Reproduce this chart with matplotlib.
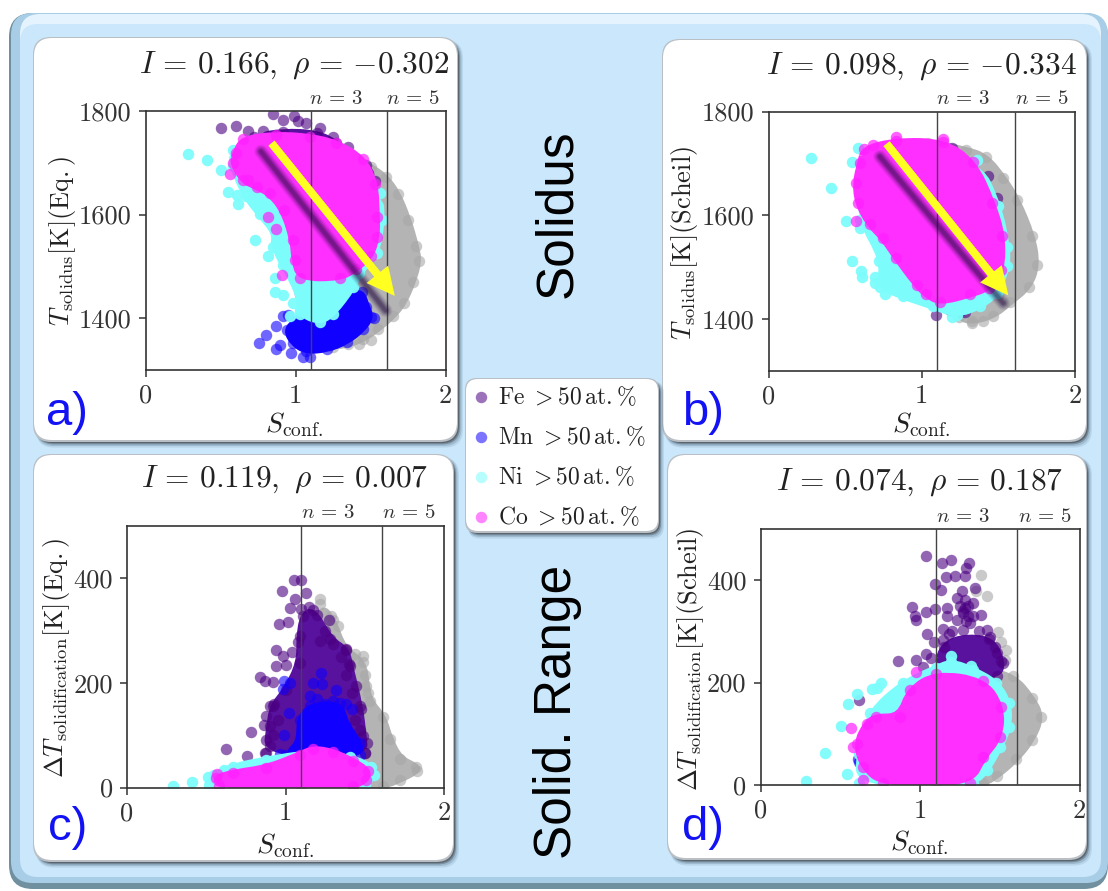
import matplotlib
matplotlib.use("Agg")
import matplotlib.pyplot as plt
from matplotlib.patches import FancyBboxPatch, PathPatch
from matplotlib.path import Path

plt.rcParams['mathtext.fontset'] = 'cm'
plt.rcParams['font.family'] = ['DejaVu Serif']

W, H = 1108, 891

# ---------------- data: (S_conf, value) ----------------
# dense masses are given by their outline points; separate dots as single points
a_gray_core = [(1.27,1725),(1.40,1705),(1.50,1692),(1.60,1672),(1.68,1640),(1.75,1590),(1.80,1540),(1.82,1510),
               (1.78,1470),(1.72,1430),(1.65,1405),(1.55,1380),(1.45,1360),(1.35,1350),(1.25,1345),(1.1,1400),(1.1,1650)]
a_gray_pts = [(1.42,1350),(1.50,1358)]
a_fe_core = [(0.72,1750),(0.918,1760),(1.14,1757),(1.273,1738),(1.47,1696),(1.53,1665),(1.0,1600)]
a_fe_pts = [(0.502,1767),(0.602,1771),(0.68,1761),(0.785,1761),(0.85,1794),(0.918,1783),(0.987,1790),(1.018,1781),
            (1.073,1776),(1.16,1768),(1.25,1750),(1.35,1730)]
a_mn_core = [(1.44,1450),(1.473,1422),(1.50,1403),(1.45,1380),(1.34,1355),(1.207,1340),(1.07,1337),(0.985,1352),
             (0.94,1377),(1.007,1396),(1.16,1393),(1.25,1409),(1.36,1445)]
a_mn_pts = [(0.758,1353),(0.8,1368),(0.873,1384),(0.873,1340),(0.895,1348),(0.973,1332),(1.05,1326),(1.095,1325),
            (0.918,1405),(0.95,1406),(1.03,1447),(1.05,1445),(1.52,1400)]
a_ni_core = [(1.56,1641),(1.575,1590),(1.54,1525),(1.42,1487),(1.385,1461),(1.25,1409),(1.16,1393),(1.03,1409),
             (1.03,1448),(0.85,1538),(0.87,1564),(0.76,1602),(0.67,1635),(0.58,1693),(0.58,1725)]
a_ni_pts = [(0.285,1717),(0.407,1705),(0.5,1687),(0.55,1643),(0.61,1637),(0.615,1620),(0.73,1551),(0.818,1521),
            (0.918,1503),(0.862,1477),(0.862,1451),(0.918,1445),(0.985,1429),(1.03,1416),(0.96,1405)]
a_co_core = [(0.60,1718),(0.65,1746),(0.873,1754),(1.095,1750),(1.273,1738),(1.45,1708),(1.53,1660),(1.54,1596),
             (1.54,1557),(1.50,1520),(1.40,1495),(1.295,1478),(1.03,1478),(0.995,1512),(0.985,1551),(0.92,1609),
             (0.83,1641),(0.74,1654),(0.65,1667),(0.585,1699)]
a_co_pts = [(0.562,1678),(0.907,1483),(0.818,1596),(0.873,1573),(0.685,1667)]

b_gray_core = [(1.04,1740),(1.29,1726),(1.42,1712),(1.53,1672),(1.62,1630),(1.72,1559),(1.75,1504),(1.70,1462),
               (1.575,1432),(1.467,1406),(1.325,1395),(1.24,1403),(1.1,1500)]
b_gray_pts = [(1.325,1391),(1.40,1396)]
b_fe_core = []
b_fe_pts = [(1.092,1408),(1.184,1417),(1.28,1413),(1.428,1456),(1.488,1633),(1.434,1675),(1.195,1729),(0.912,1738),
            (0.70,1723),(0.70,1552),(0.934,1462),(0.836,1504)]
b_mn_core = []
b_mn_pts = [(1.25,1415),(0.73,1640)]
b_ni_core = [(0.585,1729),(1.358,1707),(1.50,1617),(1.555,1539),(1.555,1501),(1.49,1449),(1.38,1424),(1.227,1408),
             (1.075,1424),(0.88,1443),(0.727,1462),(0.75,1514),(0.60,1591)]
b_ni_pts = [(0.28,1710),(0.407,1652),(0.503,1588),(0.542,1702),(0.548,1512),(0.603,1493),(0.607,1481),(0.694,1481),
            (0.76,1447),(0.694,1468),(0.596,1575),(1.195,1404),(0.72,1512)]
b_co_core = [(0.625,1728),(0.835,1743),(1.14,1741),(1.336,1703),(1.46,1623),(1.525,1559),(1.52,1494),(1.44,1460),
             (1.315,1447),(1.118,1432),(1.03,1447),(0.966,1466),(0.835,1518),(0.75,1556),(0.66,1582),(0.585,1623),
             (0.57,1662),(0.60,1700)]
b_co_pts = [(0.57,1588),(0.68,1735),(0.835,1750),(1.14,1747)]

c_gray_core = [(1.216,350),(1.30,320),(1.363,265),(1.49,240),(1.51,195),(1.53,165),(1.615,135),(1.657,92),(1.72,55),
               (1.825,40),(1.83,32),(1.72,15),(1.615,3),(1.1,3),(1.1,200)]
c_gray_pts = [(1.216,361),(1.29,327),(1.33,308),(1.49,251),(1.437,256),(1.50,215),(1.52,180)]
c_fe_core = [(1.174,340),(1.28,283),(1.384,263),(1.405,232),(1.468,155),(1.49,98),(1.50,66),(0.88,66),(0.90,117),
             (0.92,155),(1.006,187),(1.09,238),(1.09,289),(1.11,327)]
c_fe_pts = [(1.053,396),(1.10,397),(0.977,375),(1.059,361),(1.132,371),(1.03,343),(1.10,341),(0.958,313),(1.017,317),
            (1.275,320),(0.943,263),(1.044,260),(0.943,233),(1.006,235),(0.842,211),(0.87,203),(0.922,202),(1.384,265),
            (1.40,237),(1.447,195),(1.479,150),(0.90,155),(0.88,136),(0.863,119),(0.78,107),(0.874,91),(0.622,74),
            (0.758,61),(0.87,66),(1.515,85),(1.504,66),(1.08,279),(0.985,251),(1.15,345),(1.2,330),(1.25,300),
            (1.22,280),(1.3,275),(1.35,250),(1.38,215),(1.42,180),(1.44,130),(1.47,110),(0.93,160),(0.95,130),
            (0.92,100),(0.9,80)]
c_mn_core = [(1.153,155),(1.342,161),(1.384,117),(1.468,85),(1.468,62),(1.0,62),(1.09,85),(1.09,130)]
c_mn_pts = [(0.99,203),(0.985,188),(1.027,200),(1.174,200),(1.223,219),(1.233,198),(1.321,186),(1.153,174),(1.023,142),
            (0.99,101),(1.40,107),(0.964,64),(1.2,170),(1.25,160),(1.3,165),(1.38,160),(1.42,150),(1.2,130)]
c_ni_core = [(0.67,40),(0.88,53),(1.153,66),(1.405,58),(1.54,40),(1.56,24),(1.50,5),(0.52,5),(0.55,24)]
c_ni_pts = [(0.288,2),(0.412,10),(0.513,21),(0.611,34)]
c_co_core = [(0.56,18),(0.67,28),(0.88,37),(1.09,62),(1.174,74),(1.30,68),(1.427,50),(1.52,32),(1.51,15),(1.427,3),
             (0.58,3)]
c_co_pts = [(0.57,25)]

d_gray_core = [(1.396,225),(1.584,212),(1.70,170),(1.76,133),(1.70,88),(1.60,50),(1.48,18),(1.396,3),(1.1,3)]
d_gray_pts = [(1.381,411),(1.417,370),(1.35,378),(1.49,298),(1.51,280),(1.542,264),(1.53,244)]
d_fe_core = [(1.145,283),(1.438,290),(1.52,238),(1.48,212),(1.10,212)]
d_fe_pts = [(1.037,448),(1.139,434),(1.197,439),(1.306,433),(1.29,423),(1.166,407),(1.218,408),(1.281,408),(1.093,393),
            (1.13,380),(1.344,385),(1.266,378),(1.229,365),(1.281,361),(1.333,355),(0.947,348),(0.968,331),(0.972,322),
            (1.04,337),(1.097,343),(1.17,345),(1.17,331),(1.27,335),(1.38,332),(1.229,322),(1.312,316),(1.145,304),
            (1.27,303),(1.421,303),(1.047,295),(1.087,280),(1.04,256),(1.068,249),(0.863,243),(0.972,244),(1.02,231),
            (1.51,243),(1.48,257),(0.619,166),(1.28,345),(1.30,330),(1.3,350),(1.27,340),(1.33,330),(1.25,350),
            (1.29,320),(1.2,300),(1.37,300),(1.43,285),(1.15,270),(1.18,295),(1.47,270)]
d_mn_core = []
d_mn_pts = [(0.894,171),(0.62,45),(0.61,50)]
d_ni_core = [(0.665,94),(0.685,140),(0.894,199),(1.103,228),(1.197,240),(1.33,225),(1.478,200),(1.555,160),(1.555,114),
             (1.50,75),(1.417,29),(1.333,3),(0.62,3),(0.62,60)]
d_ni_pts = [(0.284,8),(0.407,63),(0.545,21),(0.504,115),(0.549,158),(0.606,178),(0.696,187),(0.758,199),(1.197,251),
            (0.73,190),(1.32,232)]
d_co_core = [(0.602,81),(0.665,120),(0.727,133),(0.874,133),(0.936,186),(1.103,217),(1.396,204),(1.51,153),(1.50,94),
             (1.396,55),(1.312,3),(0.769,3),(0.644,36)]
d_co_pts = [(0.57,111),(0.581,75),(0.64,10),(0.978,221)]

titles = [r'$I\,=\,0.166,\ \rho\,=\,{-}0.302$', r'$I\,=\,0.098,\ \rho\,=\,{-}0.334$',
          r'$I\,=\,0.119,\ \rho\,=\,0.007$', r'$I\,=\,0.074,\ \rho\,=\,0.187$']
ylabels = [r'$T_{\mathrm{solidus}}[\mathrm{K}](\mathrm{Eq.})$', r'$T_{\mathrm{solidus}}[\mathrm{K}](\mathrm{Scheil})$',
           r'$\Delta T_{\mathrm{solidification}}[\mathrm{K}](\mathrm{Eq.})$',
           r'$\Delta T_{\mathrm{solidification}}[\mathrm{K}](\mathrm{Scheil})$']
letters = ['a)', 'b)', 'c)', 'd)']
n_lines = [1.1, 1.61]
n_labels = [r'$n\,=\,3$', r'$n\,=\,5$']
legend_labels = [r'$\mathrm{Fe}\ >50\,\mathrm{at.\%}$', r'$\mathrm{Mn}\ >50\,\mathrm{at.\%}$',
                 r'$\mathrm{Ni}\ >50\,\mathrm{at.\%}$', r'$\mathrm{Co}\ >50\,\mathrm{at.\%}$']
solidus_ticks = [1400, 1600, 1800]
range_ticks = [0, 200, 400]
arrow_a = [(0.84,1738),(1.662,1443)]
shadow_a = [(0.77,1722),(1.60,1415)]
arrow_b = [(0.77,1738),(1.565,1445)]
shadow_b = [(0.727,1713),(1.532,1430)]

# ---------------- styles ----------------
C_GRAY = dict(core='#b4b4b4', dot='#a8a8a8', a=0.6)
C_FE = dict(core='#58129e', dot='#4b0082', a=0.6)
C_MN = dict(core='#1000ff', dot='#1000ff', a=0.6)
C_NI = dict(core='#7dfcfc', dot='#7dfcfc', a=0.95)
C_CO = dict(core='#ff30ff', dot='#ff20ff', a=0.7)
MS = 68


def rect(bg, x0, y0, x1, y1, r, **kw):
    bg.add_patch(FancyBboxPatch((x0 + r, y0 + r), x1 - x0 - 2 * r, y1 - y0 - 2 * r,
                                boxstyle=f'round,pad={r},rounding_size={r}', lw=0, **kw))


def card(bg, x0, y0, x1, y1, r=18):
    for off, col, al in [(7, '#4d6d85', 0.15), (5, '#4d6d85', 0.25), (3, '#3f4f5c', 0.4), (1.5, '#555b60', 0.8)]:
        rect(bg, x0 + 2, y0 + 2, x1 + off * 0.7, y1 + off * 0.8, r, fc=col, alpha=al)
    rect(bg, x0 - 1, y0 - 1, x1, y1, r, fc='#b9bfc4')
    rect(bg, x0, y0, x1 - 1, y1 - 2, r, fc='white')


def cloud(ax, core, pts, st):
    if core:
        verts = [((core[i - 1][0] + core[i][0]) / 2, (core[i - 1][1] + core[i][1]) / 2) for i in range(len(core))]
        codes = [Path.MOVETO]
        path = [verts[0]]
        for i, c in enumerate(core):
            path += [c, verts[(i + 1) % len(core)]]
            codes += [Path.CURVE3, Path.CURVE3]
        ax.add_patch(PathPatch(Path(path, codes), fc=st['core'], ec=st['core'], lw=5, joinstyle='round', zorder=2))
    all_pts = list(core) + list(pts)
    ax.scatter([p[0] for p in all_pts], [p[1] for p in all_pts], s=MS, color=st['dot'],
               alpha=st['a'], linewidths=0, zorder=2)


fig = plt.figure(figsize=(W / 100, H / 100), dpi=100, facecolor='white')
bg = fig.add_axes([0, 0, 1, 1], zorder=0)
bg.set_xlim(0, W)
bg.set_ylim(H, 0)
bg.axis('off')
rect(bg, 9, 13, 1108, 889, 24, fc='#70909f')
rect(bg, 11, 13, 1108, 883, 22, fc='#a8cde6')
rect(bg, 20, 14, 1101, 60, 20, fc='#e4f3fe')
rect(bg, 20, 24, 1101, 877, 18, fc='#cbe7fb')

card(bg, 34, 38, 458, 442)
card(bg, 663, 40, 1087, 442)
card(bg, 34, 455, 454, 862)
card(bg, 668, 455, 1087, 860)
card(bg, 466, 379, 659, 533, r=12)


def panel(box, ylim, yticks, core_sets, title, tpos, ylab, ylpos, xlab, letter, lpos):
    x0, x1, y0, y1 = box
    ax = fig.add_axes([x0 / W, 1 - y1 / H, (x1 - x0) / W, (y1 - y0) / H], zorder=2)
    for core, pts, st in core_sets:
        cloud(ax, core, pts, st)
    ax.set_xlim(0, 2)
    ax.set_ylim(*ylim)
    ax.set_xticks([0, 1, 2])
    ax.set_yticks(yticks)
    ax.tick_params(labelsize=19, length=5, width=1.1, color='#333333', labelcolor='#333333', pad=5)
    for t in ax.get_xticklabels() + ax.get_yticklabels():
        t.set_fontfamily('cmr10')
    plt.setp(ax.spines.values(), color='#333333', lw=1.2)
    for v in n_lines:
        ax.axvline(v, color='#444444', lw=1.0, zorder=3)
    for v, lab in zip(n_lines, n_labels):
        ax.text(v + 0.17, ylim[1] + (ylim[1] - ylim[0]) * 0.05, lab, ha='center', va='center',
                fontsize=15, color='#333333')
    bg.text(tpos[0], tpos[1], title, fontsize=22.6, ha='center', va='center', color='#222222')
    bg.text(ylpos[0], ylpos[1], ylab, rotation=90, fontsize=19, ha='center', va='center', color='#222222')
    bg.text(xlab[0], xlab[1], r'$S_{\mathrm{conf.}}$', fontsize=20, ha='center', va='center', color='#222222')
    bg.text(lpos[0], lpos[1], letter, fontsize=34, family='Liberation Sans', color='#1212f5', ha='center', va='center')
    return ax


ax_a = panel((145.5, 445.5, 111, 370), (1300, 1800), solidus_ticks,
             [(a_gray_core, a_gray_pts, C_GRAY), (a_fe_core, a_fe_pts, C_FE), (a_mn_core, a_mn_pts, C_MN),
              (a_ni_core, a_ni_pts, C_NI), (a_co_core, a_co_pts, C_CO)],
             titles[0], (294, 65), ylabels[0], (62, 241), (294, 425), letters[0], (67, 413))
ax_b = panel((768.5, 1075, 111.5, 370.5), (1300, 1800), solidus_ticks,
             [(b_gray_core, b_gray_pts, C_GRAY), (b_fe_core, b_fe_pts, C_FE), (b_mn_core, b_mn_pts, C_MN),
              (b_ni_core, b_ni_pts, C_NI), (b_co_core, b_co_pts, C_CO)],
             titles[1], (921, 66), ylabels[1], (685, 243), (921, 425), letters[1], (703, 413))
ax_c = panel((127, 444, 526, 787.5), (0, 500), range_ticks,
             [(c_gray_core, c_gray_pts, C_GRAY), (c_fe_core, c_fe_pts, C_FE), (c_mn_core, c_mn_pts, C_MN),
              (c_ni_core, c_ni_pts, C_NI), (c_co_core, c_co_pts, C_CO)],
             titles[2], (285, 479), ylabels[2], (57, 658), (285, 846), letters[2], (68, 828))
ax_d = panel((760.5, 1079.5, 529, 785), (0, 500), range_ticks,
             [(d_gray_core, d_gray_pts, C_GRAY), (d_fe_core, d_fe_pts, C_FE), (d_mn_core, d_mn_pts, C_MN),
              (d_ni_core, d_ni_pts, C_NI), (d_co_core, d_co_pts, C_CO)],
             titles[3], (920, 482), ylabels[3], (690, 659), (919, 843), letters[3], (703, 828))


def arrow(ax, a, s):
    for lw, al in [(10, 0.07), (8.5, 0.09), (7, 0.12), (5.5, 0.16), (4, 0.2), (2.5, 0.22)]:
        ax.plot([s[0][0], s[1][0]], [s[0][1], s[1][1]], color='#200840', lw=lw, alpha=al,
                solid_capstyle='round', zorder=4)
    ax.annotate('', xy=a[1], xytext=a[0], zorder=5,
                arrowprops=dict(width=5.8, headwidth=20, headlength=20, shrink=0, facecolor='#ffff22',
                                edgecolor='none', linewidth=0))


arrow(ax_a, arrow_a, shadow_a)
arrow(ax_b, arrow_b, shadow_b)

# central labels
bg.text(558, 214, 'Solidus', rotation=90, fontsize=37, family='Liberation Sans', color='black', ha='center', va='center')
bg.text(558, 712, 'Solid. Range', rotation=90, fontsize=37, family='Liberation Sans', color='black', ha='center', va='center')

# legend
leg = fig.add_axes([0, 0, 1, 1], zorder=3)
leg.set_xlim(0, W)
leg.set_ylim(H, 0)
leg.axis('off')
leg_styles = [C_FE, C_MN, C_NI, C_CO]
leg_y = [397, 437, 477, 517]
for lab, st, y in zip(legend_labels, leg_styles, leg_y):
    leg.scatter([481], [y], s=MS, color=st['dot'], alpha=min(st['a'], 0.55), linewidths=0)
    leg.text(498, y, lab, fontsize=17, ha='left', va='center', color='#222222')

fig.savefig('out.png', dpi=100, facecolor='white')
